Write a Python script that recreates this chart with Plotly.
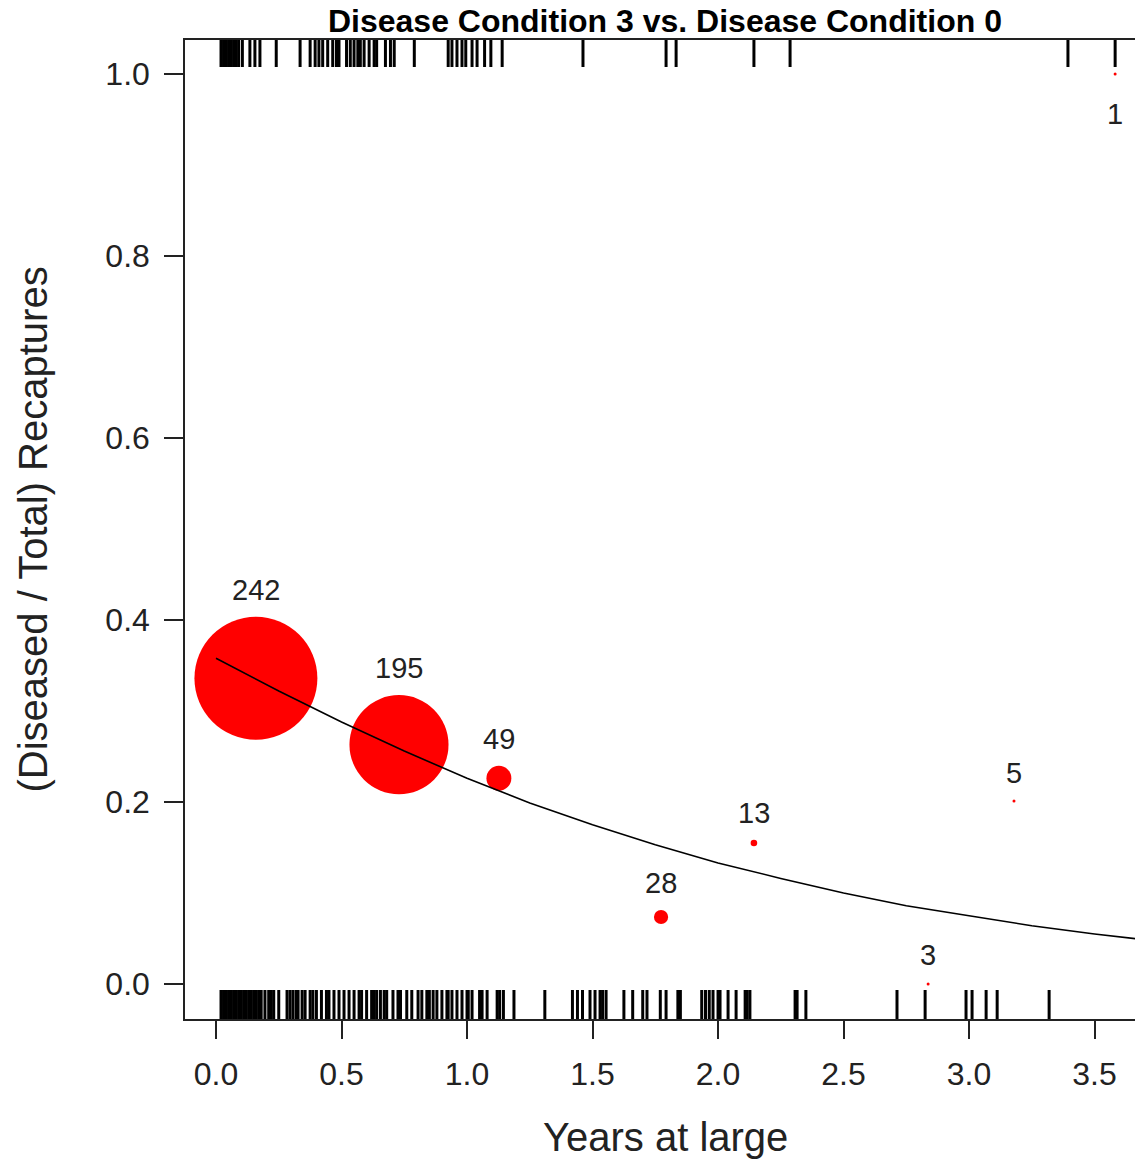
import plotly.graph_objects as go

# Binned recapture proportions (bubble size ~ number of recaptures)
bin_years = [0.159, 0.729, 1.127, 1.773, 2.143, 2.837, 3.179, 3.582]
bin_prop = [0.336, 0.263, 0.226, 0.0736, 0.155, 0.0, 0.201, 1.0]
bin_n = [242, 195, 49, 28, 13, 3, 5, 1]

# Fitted curve
curve_x = [0, 0.25, 0.5, 0.75, 1.0, 1.25, 1.5, 1.75, 2.0, 2.25, 2.5, 2.75, 3.0, 3.25, 3.5, 3.75]
curve_y = [0.358, 0.322, 0.288, 0.256, 0.226, 0.199, 0.175, 0.153, 0.133, 0.116, 0.100,
           0.086, 0.075, 0.064, 0.055, 0.047]

# Rug: individual recaptures, diseased (top) and not diseased (bottom)
rug_top = [0.02, 0.03, 0.04, 0.05, 0.06, 0.07, 0.08, 0.09, 0.105, 0.135, 0.155, 0.175, 0.24,
           0.335, 0.375, 0.395, 0.41, 0.425, 0.445, 0.465, 0.48, 0.49, 0.52, 0.535, 0.55,
           0.565, 0.575, 0.59, 0.61, 0.63, 0.64, 0.675, 0.695, 0.71, 0.79, 0.925, 0.94,
           0.96, 0.98, 0.995, 1.02, 1.04, 1.07, 1.095, 1.14,
           1.462, 1.793, 1.833, 2.143, 2.287, 3.394, 3.582]
rug_bottom = [0.02, 0.03, 0.04, 0.05, 0.06, 0.07, 0.08, 0.09, 0.10, 0.11, 0.12, 0.13, 0.14,
              0.15, 0.16, 0.17, 0.18, 0.195, 0.21, 0.22, 0.23, 0.25, 0.283, 0.295, 0.307,
              0.32, 0.327, 0.343, 0.355, 0.375, 0.386, 0.40, 0.42, 0.44, 0.45, 0.47, 0.49,
              0.51, 0.53, 0.55, 0.57, 0.58, 0.60, 0.62, 0.63, 0.64, 0.655, 0.67, 0.68,
              0.705, 0.725, 0.735, 0.76, 0.78, 0.805, 0.82, 0.84, 0.85, 0.865, 0.88, 0.90,
              0.92, 0.925, 0.94, 0.96, 0.98, 1.0, 1.005, 1.02, 1.05, 1.06, 1.08, 1.12,
              1.13, 1.145, 1.187, 1.31, 1.42, 1.44, 1.46, 1.49, 1.51, 1.53, 1.54, 1.554,
              1.625, 1.66, 1.70, 1.717, 1.77, 1.793, 1.84, 1.85, 1.935, 1.95, 1.965, 1.98,
              2.0, 2.008, 2.04, 2.072, 2.108, 2.116, 2.127, 2.307, 2.315, 2.35, 2.713,
              2.825, 2.988, 3.012, 3.068, 3.112, 3.319]

x_ticks = [0, 0.5, 1.0, 1.5, 2.0, 2.5, 3.0, 3.5]
y_ticks = [0, 0.2, 0.4, 0.6, 0.8, 1.0]

y_lo, y_hi = -0.0385, 1.0374
font = 'Liberation Sans, Arial'


def rug_segments(vals, y0, y1):
    xs, ys = [], []
    for v in vals:
        xs += [v, v, None]
        ys += [y0, y1, None]
    return xs, ys


fig = go.Figure()

bx, by = rug_segments(rug_bottom, y_lo, -0.0066)
tx, ty = rug_segments(rug_top, y_hi, 1.0077)
fig.add_trace(go.Scatter(x=bx + tx, y=by + ty, mode='lines',
                         line=dict(color='black', width=3), hoverinfo='skip'))

sizes = [max(n * 0.508, 3) for n in bin_n]
fig.add_trace(go.Scatter(x=bin_years, y=bin_prop, mode='markers',
                         marker=dict(color='#ff0000', size=sizes, sizemode='diameter',
                                     opacity=1, line=dict(width=0))))

fig.add_trace(go.Scatter(x=curve_x, y=curve_y, mode='lines',
                         line=dict(color='black', width=1.6), hoverinfo='skip'))

# count labels above each bubble (below for the one at the top edge)
labels = []
for xv, yv, n, s in zip(bin_years, bin_prop, bin_n, sizes):
    shift = s / 2 + 27 if yv < 0.9 else -(s / 2 + 38)
    labels.append(dict(x=xv, y=yv, text=str(n), showarrow=False, yshift=shift,
                       xanchor='center', yanchor='middle',
                       font=dict(family=font, size=29, color='#222')))

axis_font = dict(family=font, size=32, color='#222')

fig.update_layout(
    width=1135, height=1151,
    margin=dict(l=177, r=0, t=32, b=140),
    plot_bgcolor='white', paper_bgcolor='white',
    showlegend=False,
    title=dict(text='<b>Disease Condition 3 vs. Disease Condition 0</b>',
               xref='paper', x=0.501, xanchor='center',
               yref='container', y=0.9885, yanchor='middle',
               font=dict(family=font, size=32, color='black')),
    xaxis=dict(range=[-0.1235, 3.693], tickvals=x_ticks, tickformat='.1f',
               ticks='outside', ticklen=18, tickwidth=1.5, tickcolor='#222',
               showline=True, linecolor='#222', linewidth=1.5, mirror=True,
               showgrid=False, zeroline=False, tickfont=axis_font,
               ticklabelstandoff=8),
    yaxis=dict(range=[y_lo, y_hi], tickvals=y_ticks, tickformat='.1f',
               ticks='outside', ticklen=19, tickwidth=1.5, tickcolor='#222',
               showline=True, linecolor='#222', linewidth=1.5,
               showgrid=False, zeroline=False, tickfont=axis_font,
               ticklabelstandoff=8),
    annotations=labels + [
        dict(text='Years at large', xref='paper', yref='paper', x=0.502, y=-0.1205,
             xanchor='center', yanchor='middle', showarrow=False,
             font=dict(family=font, size=40, color='#222')),
        dict(text='(Diseased / Total) Recaptures', xref='paper', yref='paper',
             x=-0.1597, y=0.5, textangle=-90, xanchor='center', yanchor='middle',
             showarrow=False,
             font=dict(family=font, size=40, color='#222')),
    ],
)

fig.write_html("out.html")
